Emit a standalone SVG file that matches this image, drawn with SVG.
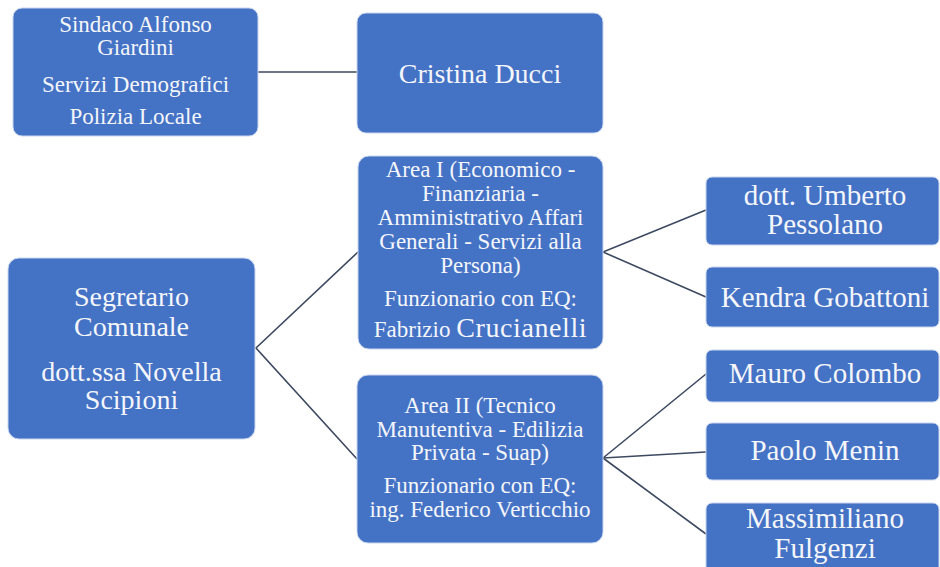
<svg xmlns="http://www.w3.org/2000/svg" width="940" height="567" viewBox="0 0 940 567">
<style>
.box{fill:#4472c4;stroke:#c9d6ee;stroke-width:1}
text{font-family:'Liberation Serif','Times New Roman',Times,'DejaVu Serif',serif;fill:#f4f6fb;text-anchor:middle}
.s{font-size:23px}
.l{font-size:28px}
.xl{font-size:29px}
.c{fill:none;stroke:#3c4960;stroke-width:1.6}
</style>
<rect width="940" height="567" fill="#ffffff"/>
<g id="connectors">
<line class="c" x1="257" y1="72" x2="357" y2="72"/>
<polyline class="c" points="358,252 256,348 357,459"/>
<polyline class="c" points="706,210 603,252 706,297"/>
<line class="c" x1="603" y1="458" x2="706" y2="374"/>
<line class="c" x1="603" y1="458" x2="706" y2="452"/>
<line class="c" x1="603" y1="458" x2="706" y2="534"/>
</g>
<g id="sindaco">
<rect class="box" x="13" y="8" width="245" height="128" rx="9"/>
<text class="s" x="135.5" y="32">Sindaco Alfonso</text>
<text class="s" x="135.5" y="55">Giardini</text>
<text class="s" x="135.5" y="92">Servizi Demografici</text>
<text class="s" x="135.5" y="124">Polizia Locale</text>
</g>
<g id="ducci">
<rect class="box" x="357" y="13" width="246" height="120" rx="9"/>
<text class="l" x="480" y="83">Cristina Ducci</text>
</g>
<g id="segretario">
<rect class="box" x="8" y="258" width="247" height="181" rx="11"/>
<text class="l" x="131.5" y="306">Segretario</text>
<text class="l" x="131.5" y="336">Comunale</text>
<text class="l" x="131.5" y="381">dott.ssa Novella</text>
<text class="l" x="131.5" y="409">Scipioni</text>
</g>
<g id="area1">
<rect class="box" x="358" y="156" width="245" height="193" rx="11"/>
<text class="s" x="480.5" y="177">Area I (Economico -</text>
<text class="s" x="480.5" y="201">Finanziaria -</text>
<text class="s" x="480.5" y="225">Amministrativo Affari</text>
<text class="s" x="480.5" y="249">Generali - Servizi alla</text>
<text class="s" x="480.5" y="273">Persona)</text>
<text class="s" x="480.5" y="306">Funzionario con EQ:</text>
<text class="s" x="480.5" y="337">Fabrizio <tspan font-size="28px" letter-spacing="0.6">Crucianelli</tspan></text>
</g>
<g id="area2">
<rect class="box" x="357" y="375" width="246" height="168" rx="11"/>
<text class="s" x="480" y="413">Area II (Tecnico</text>
<text class="s" x="480" y="437">Manutentiva - Edilizia</text>
<text class="s" x="480" y="460">Privata - Suap)</text>
<text class="s" x="480" y="493">Funzionario con EQ:</text>
<text class="s" x="480" y="517">ing. Federico Verticchio</text>
</g>
<g id="pessolano">
<rect class="box" x="706" y="177" width="233" height="68" rx="6"/>
<text class="xl" x="825" y="205">dott. Umberto</text>
<text class="xl" x="825" y="234">Pessolano</text>
</g>
<g id="gobattoni">
<rect class="box" x="706" y="267" width="233" height="60" rx="6"/>
<text class="xl" x="825" y="307">Kendra Gobattoni</text>
</g>
<g id="colombo">
<rect class="box" x="706" y="350" width="233" height="52" rx="6"/>
<text class="xl" x="825" y="383">Mauro Colombo</text>
</g>
<g id="menin">
<rect class="box" x="706" y="423" width="233" height="57" rx="6"/>
<text class="xl" x="825" y="460">Paolo Menin</text>
</g>
<g id="fulgenzi">
<rect class="box" x="706" y="503" width="233" height="80" rx="6"/>
<text class="xl" x="825" y="528">Massimiliano</text>
<text class="xl" x="825" y="558">Fulgenzi</text>
</g>
</svg>
